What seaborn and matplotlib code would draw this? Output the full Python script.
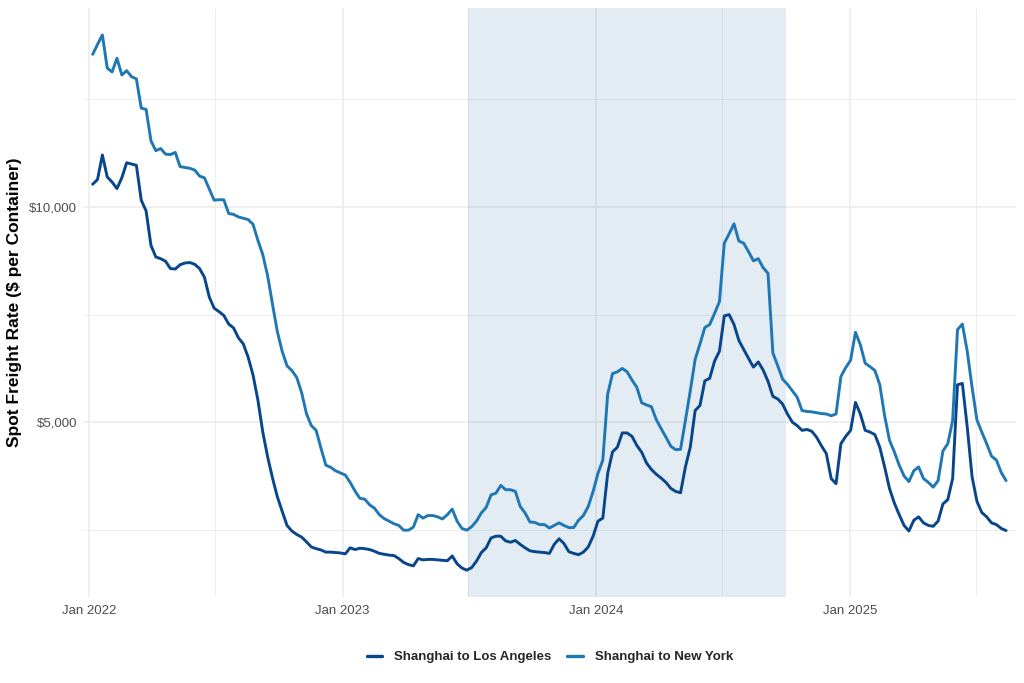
import pandas as pd
import matplotlib.pyplot as plt
import matplotlib.dates as mdates
import matplotlib.ticker as mticker
import seaborn as sns

# weekly spot rates
start_date = '2022-01-06'
rotas = ['Shanghai to Los Angeles', 'Shanghai to New York']
cores = ['#08468c', '#1f78b4']

la_rates = [
    10530, 10640, 11210, 10700, 10580, 10430, 10680, 11030, 11000, 10970,
    10160, 9910, 9110, 8840, 8800, 8740, 8570, 8560, 8660, 8700,
    8710, 8670, 8570, 8370, 7910, 7650, 7570, 7480, 7280, 7190,
    6960, 6820, 6510, 6100, 5520, 4780, 4200, 3710, 3270, 2930,
    2600, 2470, 2390, 2330, 2220, 2100, 2060, 2030, 1980, 1980,
    1970, 1960, 1940, 2080, 2040, 2070, 2060, 2040, 2000, 1950,
    1930, 1910, 1900, 1830, 1740, 1690, 1660, 1830, 1800, 1810,
    1810, 1800, 1790, 1780, 1890, 1710, 1610, 1560, 1620, 1770,
    1970, 2080, 2310, 2350, 2350, 2240, 2210, 2250, 2160, 2080,
    2010, 1990, 1980, 1970, 1950, 2160, 2290, 2180, 1990, 1950,
    1920, 1980, 2100, 2350, 2700, 2770, 3810, 4310, 4420, 4750,
    4750, 4670, 4460, 4300, 4050, 3900, 3790, 3700, 3600, 3460,
    3390, 3360, 3960, 4420, 5270, 5390, 5960, 6020, 6420, 6650,
    7470, 7500, 7270, 6900, 6690, 6480, 6280, 6400, 6210, 5950,
    5600, 5540, 5420, 5190, 5000, 4920, 4810, 4830, 4790, 4650,
    4450, 4270, 3690, 3570, 4500, 4670, 4810, 5460, 5190, 4810,
    4770, 4710, 4420, 3960, 3460, 3120, 2850, 2600, 2470, 2720,
    2800, 2660, 2600, 2580, 2700, 3100, 3200, 3690, 5870, 5900,
    4890, 3730, 3160, 2900, 2800, 2660, 2620, 2530, 2480,
]

ny_rates = [
    13550, 13780, 14000, 13230, 13140, 13460, 13070, 13170, 13030, 12980,
    12300, 12270, 11540, 11310, 11360, 11230, 11220, 11270, 10940, 10920,
    10900, 10860, 10720, 10680, 10420, 10160, 10170, 10170, 9850, 9830,
    9770, 9740, 9710, 9600, 9230, 8900, 8410, 7750, 7110, 6650,
    6310, 6200, 6040, 5690, 5200, 4920, 4810, 4390, 4000, 3950,
    3870, 3820, 3770, 3600, 3400, 3230, 3210, 3080, 3000, 2850,
    2760, 2700, 2640, 2600, 2490, 2490, 2560, 2850, 2770, 2830,
    2830, 2800, 2750, 2850, 2980, 2700, 2530, 2490, 2570, 2700,
    2890, 3020, 3310, 3350, 3530, 3430, 3430, 3390, 3040, 2890,
    2680, 2670, 2620, 2620, 2540, 2600, 2660, 2600, 2550, 2550,
    2720, 2830, 3040, 3390, 3810, 4120, 5650, 6130, 6170, 6250,
    6170, 5980, 5810, 5450, 5400, 5360, 5060, 4850, 4650, 4440,
    4360, 4370, 5040, 5730, 6460, 6820, 7200, 7270, 7530, 7800,
    9160, 9380, 9610, 9210, 9160, 8960, 8750, 8800, 8590, 8460,
    6610, 6310, 6000, 5880, 5730, 5580, 5270, 5250, 5240, 5220,
    5200, 5190, 5150, 5190, 6060, 6270, 6440, 7090, 6800, 6370,
    6290, 6200, 5870, 5150, 4580, 4310, 4000, 3750, 3620, 3870,
    3960, 3690, 3600, 3490, 3640, 4330, 4500, 5040, 7150, 7280,
    6650, 5810, 5050, 4770, 4500, 4210, 4120, 3830, 3640,
]

# periodo destacado
faixa_inicio = '2023-07-01'
faixa_fim = '2024-10-01'


def montar_df():
    datas = pd.date_range(start_date, periods=len(la_rates), freq='7D')
    df_la = pd.DataFrame({'date': datas, 'rate': la_rates, 'route': rotas[0]})
    df_ny = pd.DataFrame({'date': datas, 'rate': ny_rates, 'route': rotas[1]})
    return pd.concat([df_la, df_ny], ignore_index=True)


if __name__ == '__main__':
    sns.set_theme(style='white')
    plt.rcParams['font.family'] = ['Liberation Sans', 'DejaVu Sans']

    df = montar_df()

    fig, ax = plt.subplots(figsize=(10.24, 6.83), dpi=100)
    fig.subplots_adjust(left=0.081, right=0.992, top=0.988, bottom=0.126)

    ax.axvspan(pd.Timestamp(faixa_inicio), pd.Timestamp(faixa_fim),
               color='steelblue', alpha=0.15, lw=0, zorder=1)

    sns.lineplot(data=df, x='date', y='rate', hue='route', hue_order=rotas,
                 palette=cores, linewidth=2.1, ax=ax, zorder=3)

    # eixos no estilo minimal
    ax.set_axisbelow(True)
    ax.xaxis.set_major_locator(mdates.YearLocator())
    ax.xaxis.set_minor_locator(mdates.MonthLocator(bymonth=7))
    ax.xaxis.set_major_formatter(mdates.DateFormatter('%b %Y'))
    ax.yaxis.set_major_locator(mticker.MultipleLocator(5000))
    ax.yaxis.set_minor_locator(mticker.MultipleLocator(2500))
    ax.yaxis.set_major_formatter(mticker.StrMethodFormatter('${x:,.0f}'))
    ax.grid(which='major', color='#EBEBEB', linewidth=1.1)
    ax.grid(which='minor', color='#EBEBEB', linewidth=0.6)
    for s in ax.spines.values():
        s.set_visible(False)
    ax.tick_params(which='both', length=0, labelsize=9.5, labelcolor='#4D4D4D')
    ax.tick_params(axis='x', pad=6)
    ax.tick_params(axis='y', pad=4)

    d0 = df['date'].min()
    d1 = df['date'].max()
    ax.set_xlim(d0 - pd.Timedelta(days=14), d1 + pd.Timedelta(days=14))
    ax.margins(y=0.05)

    ax.set_xlabel('')
    ax.set_ylabel('Spot Freight Rate ($ per Container)', fontsize=12.5,
                  fontweight='bold', color='black', labelpad=5)

    handles, labels = ax.get_legend_handles_labels()
    ax.legend_.remove()
    leg = fig.legend(handles, labels, loc='center', bbox_to_anchor=(0.537, 0.038),
                     ncol=2, frameon=False, handlelength=1.2, columnspacing=1.2,
                     handletextpad=0.9, prop={'weight': 'bold', 'size': 9.5})
    for h in leg.get_lines():
        h.set_linewidth(2.4)

    plt.savefig('out.png', dpi=100)
